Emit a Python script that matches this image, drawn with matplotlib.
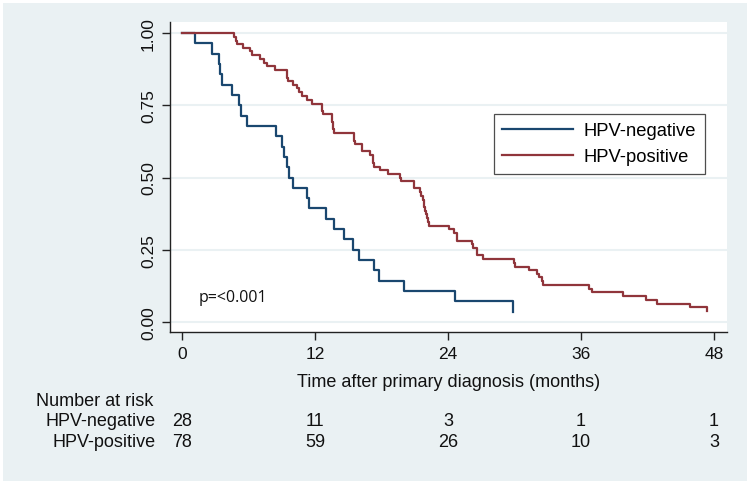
import matplotlib
matplotlib.use("Agg")
import matplotlib.pyplot as plt
from matplotlib.patches import Rectangle
from matplotlib.transforms import blended_transform_factory

# ---- data ----
neg_times = [1.2, 2.7, 3.3, 3.4, 3.6, 4.5, 5.1, 5.3, 5.9, 8.5, 9.0, 9.2, 9.5, 9.65,
             10.0, 11.3, 11.5, 13.0, 13.75, 14.6, 15.4, 16.0, 17.3, 17.8, 20.0, 24.6, 29.9]
neg_surv = [0.964, 0.929, 0.893, 0.857, 0.821, 0.786, 0.750, 0.714, 0.679, 0.643, 0.607,
            0.571, 0.536, 0.500, 0.464, 0.429, 0.393, 0.357, 0.321, 0.286, 0.250, 0.214,
            0.179, 0.143, 0.107, 0.071, 0.036]

pos_times = [4.7, 4.85, 5.0, 5.5, 6.1, 6.3, 7.0, 7.4, 7.7, 8.4, 9.45, 9.5, 9.6, 10.0,
             10.35, 10.6, 10.8, 11.25, 11.7, 12.6, 12.65, 12.75, 13.5, 13.55, 13.6, 13.65,
             13.7, 15.5, 15.55, 15.6, 16.2, 16.25, 17.0, 17.2, 17.25, 17.3, 17.9, 18.6,
             19.7, 19.75, 20.9, 20.95, 21.5, 21.55, 21.7, 21.8, 21.85, 21.95, 22.0, 22.1,
             22.2, 22.3, 24.1, 24.5, 24.8, 24.85, 26.2, 26.25, 26.6, 26.65, 27.2, 30.0,
             30.05, 31.3, 32.0, 32.25, 32.5, 32.55, 36.7, 37.0, 39.8, 41.9, 42.9, 45.8, 47.35]
pos_surv = [0.987, 0.974, 0.962, 0.949, 0.936, 0.923, 0.910, 0.897, 0.885, 0.872, 0.859,
            0.846, 0.833, 0.821, 0.808, 0.795, 0.782, 0.769, 0.756, 0.744, 0.731, 0.718,
            0.705, 0.692, 0.679, 0.667, 0.654, 0.641, 0.628, 0.615, 0.603, 0.590, 0.577,
            0.564, 0.551, 0.538, 0.526, 0.513, 0.500, 0.487, 0.474, 0.462, 0.449, 0.436,
            0.423, 0.410, 0.397, 0.385, 0.372, 0.359, 0.346, 0.333, 0.321, 0.308, 0.295,
            0.282, 0.269, 0.256, 0.244, 0.231, 0.218, 0.205, 0.192, 0.179, 0.167, 0.154,
            0.141, 0.128, 0.115, 0.103, 0.090, 0.077, 0.064, 0.051, 0.038]

x_ticks = [0, 12, 24, 36, 48]
y_ticks = [0.00, 0.25, 0.50, 0.75, 1.00]
y_tick_labels = ["0.00", "0.25", "0.50", "0.75", "1.00"]
groups = ["HPV-negative", "HPV-positive"]
risk_neg = [28, 11, 3, 1, 1]
risk_pos = [78, 59, 26, 10, 3]

# ---- styling ----
BLUE = "#1A476F"
RED = "#90353B"
BG = "#EAF1F3"
FONT = "Liberation Sans"
plt.rcParams["font.family"] = [FONT, "DejaVu Sans"]

W, H = 750, 485
fig = plt.figure(figsize=(7.5, 4.85), dpi=100, facecolor="white")
fig.patches.append(Rectangle((3 / W, 3 / H), (W - 6) / W, (H - 7) / H,
                             transform=fig.transFigure, facecolor=BG,
                             edgecolor="none", zorder=-10))

left, right, top, bottom = 170, 727, 23, 333
ax = fig.add_axes([left / W, 1 - bottom / H, (right - left) / W, (bottom - top) / H])
ax.set_facecolor("white")

x0px, px_per_month = 182, 11.083
ax.set_xlim((left - x0px) / px_per_month, (right - x0px) / px_per_month)
y0px, px_per_unit = 323, 289
ax.set_ylim((y0px - bottom) / px_per_unit, (y0px - top) / px_per_unit)

for yv in y_ticks:
    ax.axhline(yv, color=BG, lw=1.5, zorder=0)

ax.step([0] + neg_times, [1.0] + neg_surv, where="post", color=BLUE, lw=1.6,
        label=groups[0], zorder=3)
ax.step([0] + pos_times, [1.0] + pos_surv, where="post", color=RED, lw=1.6,
        label=groups[1], zorder=4)

for s in ["top", "right"]:
    ax.spines[s].set_visible(False)
for s in ["left", "bottom"]:
    ax.spines[s].set_color("#222222")
    ax.spines[s].set_linewidth(1.0)

ax.set_xticks(x_ticks)
ax.set_xticklabels([str(v) for v in x_ticks], fontsize=12.5)
ax.set_yticks(y_ticks)
ax.set_yticklabels(y_tick_labels, fontsize=12.5, rotation=90, va="center")
ax.tick_params(axis="both", direction="out", length=6, width=1.0, color="#222222",
               pad=4, labelcolor="#111111")

ax.set_xlabel("Time after primary diagnosis (months)", fontsize=13, labelpad=8.5,
              color="#111111")

ax.text(1.5, 0.085, "p=<0.001", fontsize=11.5, family=["Open Sans", "DejaVu Sans"],
        color="#111111", va="center", ha="left")

leg = ax.legend(loc="upper left", bbox_to_anchor=((494 - left) / (right - left),
                                                   (bottom - 115) / (bottom - top)),
                borderaxespad=0, frameon=True, fancybox=False, fontsize=13.2,
                handlelength=3.85, handletextpad=0.6, borderpad=0.45, labelspacing=0.5)
leg.get_frame().set_edgecolor("#222222")
leg.get_frame().set_linewidth(0.9)

# ---- number at risk table ----
tr = blended_transform_factory(ax.transData, fig.transFigure)
fig.text(36 / W, 1 - 402 / H, "Number at risk", fontsize=13, ha="left", va="center",
         color="#111111")
for row_y, name, vals in [(422, groups[0], risk_neg), (443, groups[1], risk_pos)]:
    fig.text(156 / W, 1 - row_y / H, name, fontsize=13, ha="right", va="center",
             color="#111111")
    for xv, n in zip(x_ticks, vals):
        ax.text(xv, 1 - row_y / H, str(n), transform=tr, fontsize=13, ha="center",
                va="center", color="#111111", clip_on=False)

fig.savefig("out.png", dpi=100, facecolor="white")
